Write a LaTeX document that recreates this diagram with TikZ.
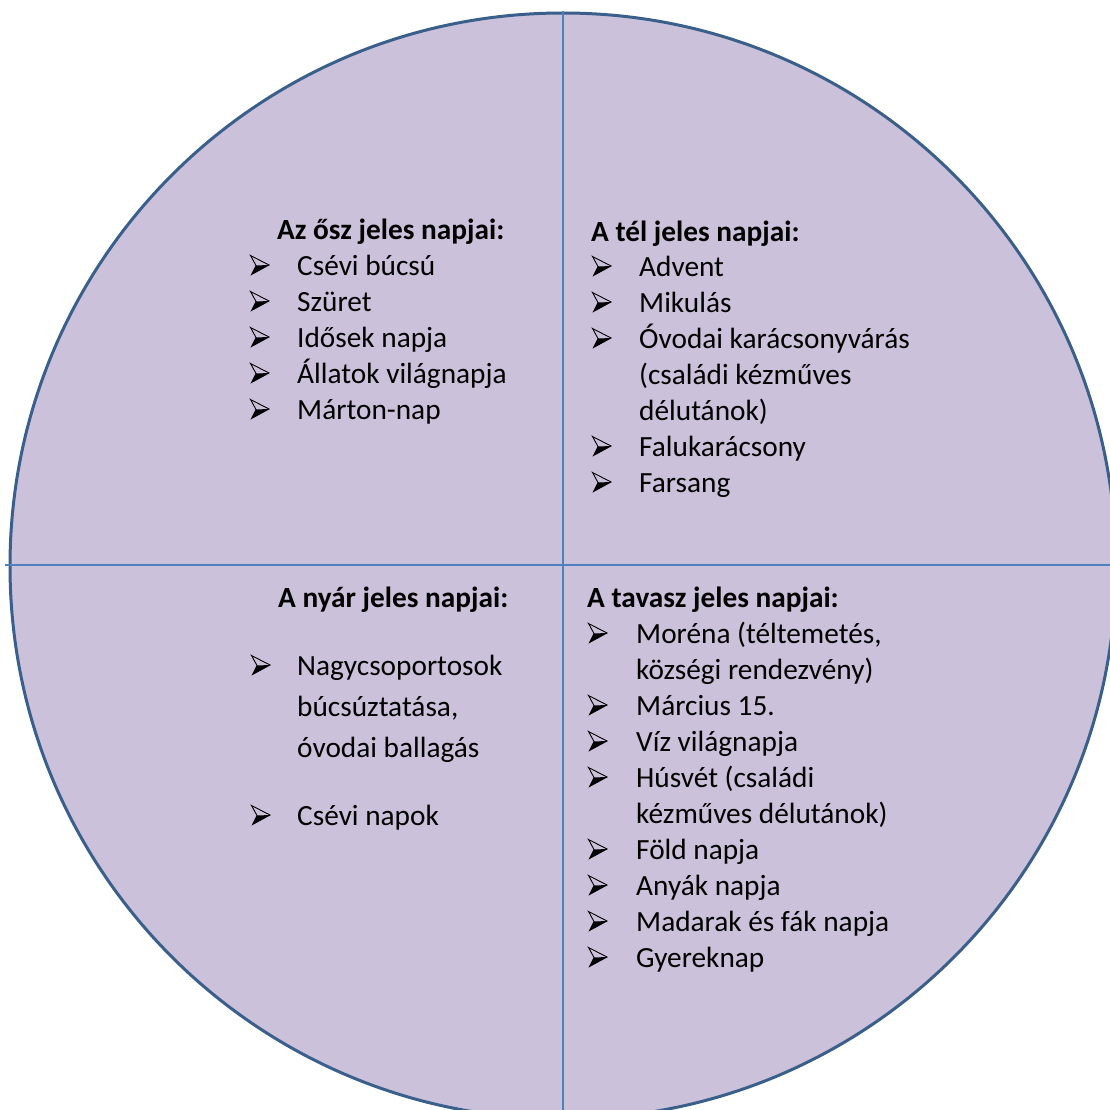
\documentclass[tikz,border=0pt]{standalone}
\usepackage{fontspec}
\setmainfont{Carlito}
\definecolor{korkitoltes}{HTML}{CCC1DA}
\definecolor{korvonal}{HTML}{3A5F8B}
\definecolor{valaszto}{HTML}{4F81BD}

\begin{document}
\begin{tikzpicture}[x=1pt,y=-1pt,
    cim/.style={anchor=base west,inner sep=0pt,font=\fontsize{29.3}{36}\selectfont\bfseries},
    sor/.style={anchor=base west,inner sep=0pt,font=\fontsize{29.3}{36}\selectfont},
    nyil/.pic={
        \fill[black] (5,-9.5) -- (18,-10) -- (0.5,-0.5) -- cycle;
        \draw[black,line width=0.9pt,line join=miter] (-0.5,-19.5) -- (18,-10) -- (0.5,-0.5) -- (5,-9.5) -- cycle;
    }]
    \useasboundingbox (0,0) rectangle (1110,1110);
    \clip (0,0) rectangle (1110,1110);

    % circle and the two dividing lines
    \node[draw=korvonal,line width=3pt,fill=korkitoltes,circle,minimum size=1106pt,inner sep=0pt] (kor) at (563,566) {};
    \draw[valaszto,line width=1.5pt] (kor.north) -- (kor.south);
    \draw[valaszto,line width=1.5pt] (5,565) -- (1110,565);

    % autumn
    \node[cim] (osz) at (277,239) {Az ősz jeles napjai:};
    \foreach \szoveg [count=\i] in {{Csévi búcsú}, {Szüret}, {Idősek napja}, {Állatok világnapja}, {Márton-nap}}{
        \pic at (251,239+36*\i) {nyil};
        \node[sor] (osz-\i) at (297,239+36*\i) {\szoveg};
    }

    % winter
    \node[cim] (tel) at (591,241) {A tél jeles napjai:};
    \foreach \szoveg [count=\i] in {{Advent}, {Mikulás}, {Óvodai karácsonyvárás}, {(családi kézműves}, {délutánok)}, {Falukarácsony}, {Farsang}}{
        \node[sor] (tel-\i) at (639,240+36*\i) {\szoveg};
    }
    \foreach \i in {1,2,3,6,7}{
        \pic at (593,240+36*\i) {nyil};
    }

    % spring
    \node[cim] (tavasz) at (587,607) {A tavasz jeles napjai:};
    \foreach \szoveg [count=\i] in {{Moréna (téltemetés,}, {községi rendezvény)}, {Március 15.}, {Víz világnapja}, {Húsvét (családi}, {kézműves délutánok)}, {Föld napja}, {Anyák napja}, {Madarak és fák napja}, {Gyereknap}}{
        \node[sor] (tavasz-\i) at (636,607+36*\i) {\szoveg};
    }
    \foreach \i in {1,3,4,5,7,8,9,10}{
        \pic at (589,607+36*\i) {nyil};
    }

    % summer
    \node[cim] (nyar) at (278,607) {A nyár jeles napjai:};
    \node[sor] (nyar-1) at (297,675) {Nagycsoportosok};
    \node[sor] (nyar-2) at (297,716) {búcsúztatása,};
    \node[sor] (nyar-3) at (297,757) {óvodai ballagás};
    \node[sor] (nyar-4) at (297,825) {Csévi napok};
    \pic at (252,675) {nyil};
    \pic at (252,825) {nyil};
\end{tikzpicture}
\end{document}
